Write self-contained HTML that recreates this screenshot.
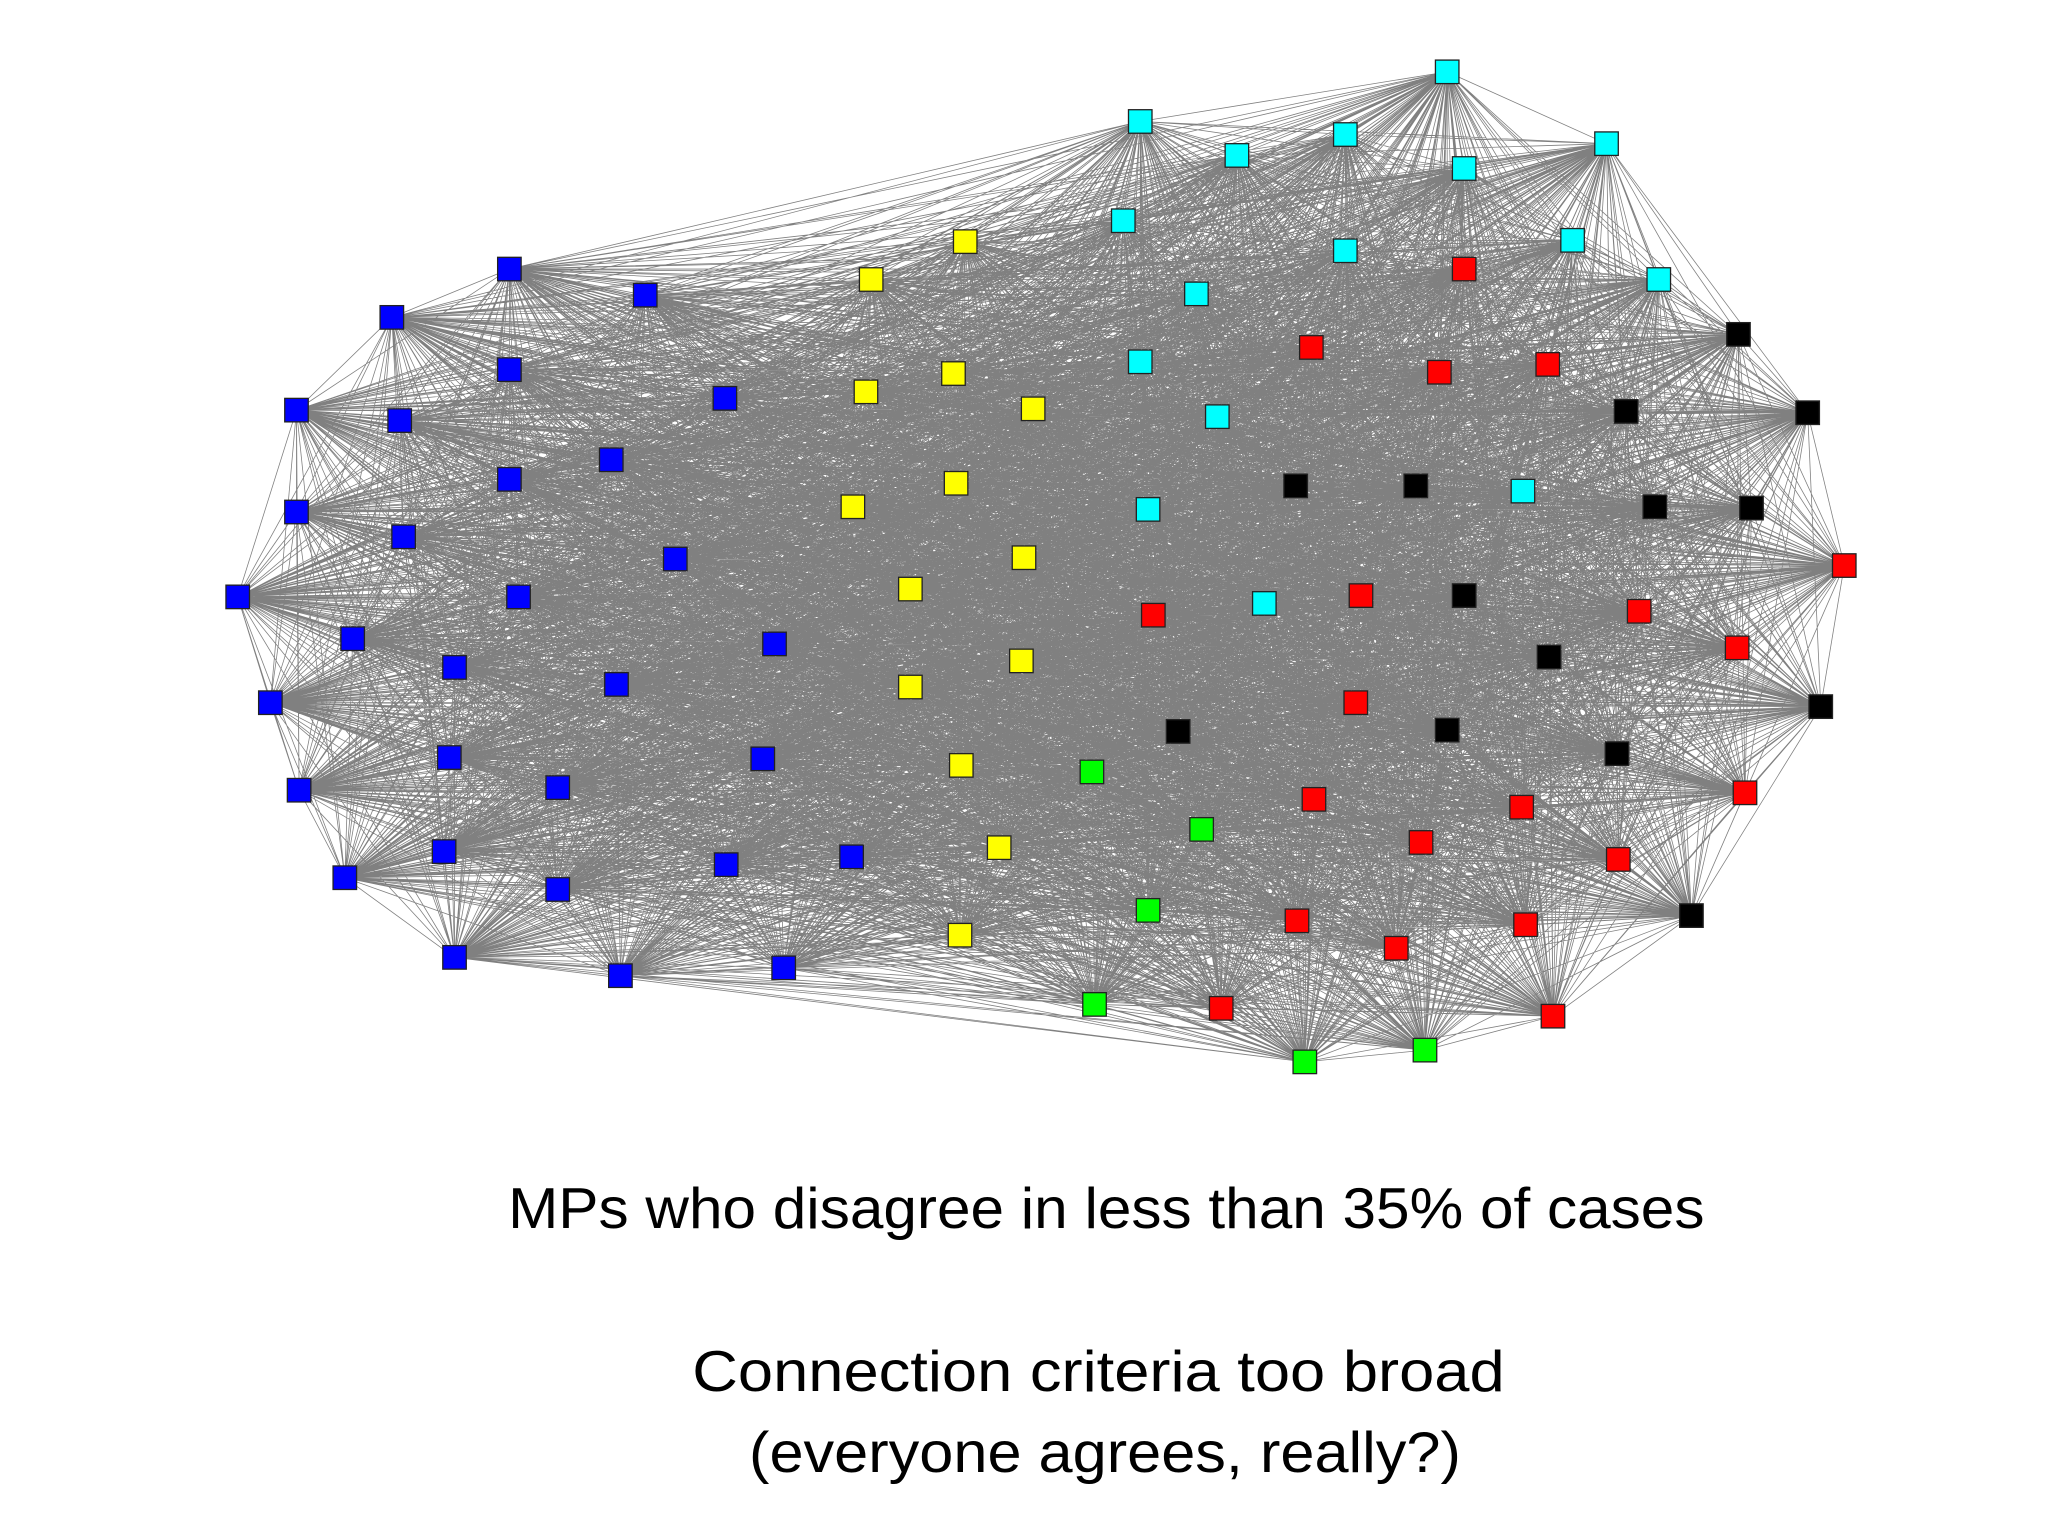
<!DOCTYPE html>
<html><head><meta charset="utf-8"><style>
html,body{margin:0;padding:0;background:#fff;}
svg{display:block;}
</style></head><body>
<svg id="chart" width="2048" height="1536" viewBox="0 0 1568 1176" xmlns="http://www.w3.org/2000/svg">
<rect width="1568" height="1176" fill="#fff"/>
<g id="edges"></g>
<g id="nodes"></g>
<text x="847" y="940" text-anchor="middle" font-family="'Liberation Sans', sans-serif" font-size="44" textLength="916" lengthAdjust="spacingAndGlyphs" fill="#000">MPs who disagree in less than 35% of cases</text>
<text x="841" y="1065" text-anchor="middle" font-family="'Liberation Sans', sans-serif" font-size="44" textLength="622" lengthAdjust="spacingAndGlyphs" fill="#000">Connection criteria too broad</text>
<text x="846" y="1127" text-anchor="middle" font-family="'Liberation Sans', sans-serif" font-size="44" textLength="545" lengthAdjust="spacingAndGlyphs" fill="#000">(everyone agrees, really?)</text>
</svg>
<script>
const cyanNodes=[[1108,55],[873,93],[947,119],[1030,103],[1230,110],[1121,129],[860,169],[1030,192],[1204,184],[1270,214],[916,225],[873,277],[932,319],[879,390],[1166,376],[968,462]];
const blueNodes=[[390,206],[494,226],[300,243],[390,283],[555,305],[227,314],[306,322],[390,367],[468,352],[227,392],[309,411],[517,428],[182,457],[397,457],[270,489],[593,493],[348,511],[472,524],[207,538],[344,580],[584,581],[229,605],[427,603],[340,652],[556,662],[652,656],[264,672],[427,681],[348,733],[475,747],[600,741]];
const yellowNodes=[[739,185],[667,214],[663,300],[730,286],[791,313],[653,388],[732,370],[697,451],[784,427],[697,526],[782,506],[736,586],[765,649],[735,716]];
const redNodes=[[1121,206],[1004,266],[1102,285],[1185,279],[1412,433],[1042,456],[883,471],[1255,468],[1330,496],[1038,538],[1006,612],[1165,618],[1336,607],[1088,645],[1239,658],[993,705],[1069,726],[1168,708],[935,772],[1189,778]];
const blackNodes=[[1331,256],[1245,315],[1384,316],[992,372],[1084,372],[1267,388],[1341,389],[1121,456],[1186,503],[1394,541],[902,560],[1108,559],[1238,577],[1295,701]];
const greenNodes=[[836,591],[920,635],[879,697],[838,769],[999,813],[1091,804]];
const groups=[[cyanNodes,'#00ffff','cyan'],[blueNodes,'#0000ff','blue'],[yellowNodes,'#ffff00','yellow'],[redNodes,'#ff0000','red'],[blackNodes,'#000000','black'],[greenNodes,'#00ff00','green']];
const NS='http://www.w3.org/2000/svg';
const all=[];
groups.forEach(g=>g[0].forEach(p=>all.push(p)));
const eg=document.getElementById('edges');
let d='';
for(let i=0;i<all.length;i++)for(let j=i+1;j<all.length;j++){d+='M'+all[i][0]+' '+all[i][1]+'L'+all[j][0]+' '+all[j][1];}
const path=document.createElementNS(NS,'path');
path.setAttribute('d',d);
path.setAttribute('stroke','#808080');
path.setAttribute('stroke-width','0.6');
path.setAttribute('fill','none');


eg.appendChild(path);
const ng=document.getElementById('nodes');
const S=18;
groups.forEach(g=>{g[0].forEach(p=>{
const r=document.createElementNS(NS,'rect');
r.setAttribute('x',p[0]-S/2);r.setAttribute('y',p[1]-S/2);
r.setAttribute('width',S);r.setAttribute('height',S);
r.setAttribute('fill',g[1]);r.setAttribute('stroke','#222');r.setAttribute('stroke-width','1');


ng.appendChild(r);
});});
</script>
</body></html>
